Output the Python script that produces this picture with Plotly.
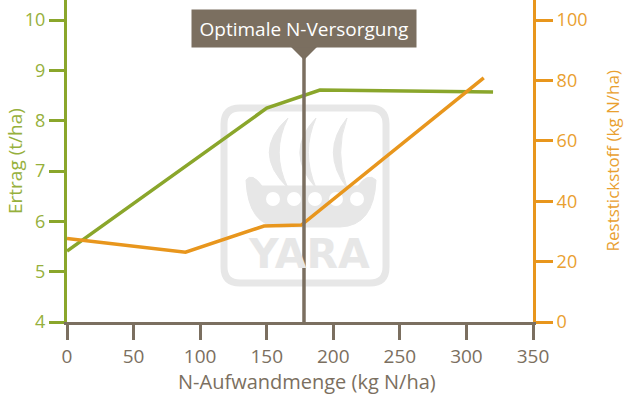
import plotly.graph_objects as go

# ---------------- data ----------------
n_rate_yield = [0, 150, 190, 320]
yield_t_ha = [5.41, 8.25, 8.61, 8.57]

n_rate_residual = [0, 89, 148, 176, 313]
residual_kg_ha = [27.7, 23.1, 31.8, 32.1, 80.9]

optimum_n = 178
optimum_label = "Optimale N-Versorgung"

x_ticks = [0, 50, 100, 150, 200, 250, 300, 350]
yield_ticks = [4, 5, 6, 7, 8, 9, 10]
residual_ticks = [0, 20, 40, 60, 80, 100]

x_title = "N-Aufwandmenge (kg N/ha)"
y_title = "Ertrag (t/ha)"
y2_title = "Reststickstoff (kg N/ha)"

# ---------------- styles ----------------
GREEN = "#8aa62b"
GREEN_TXT = "#96b03c"
ORANGE = "#e8961d"
ORANGE_TXT = "#e9a030"
GRAY = "#7b6f60"
WM = "#e7e7e7"
FONT = "Open Sans"

W, H = 625, 394
L, R, T, B = 67, 92, 0, 72
PW, PH = W - L - R, H - T - B


def px(x):
    return (x - L) / PW


def py(y):
    return (T + PH - y) / PH


fig = go.Figure()

fig.add_trace(go.Scatter(x=n_rate_yield, y=yield_t_ha, mode="lines",
                         line=dict(color=GREEN, width=3.5), yaxis="y",
                         showlegend=False, hoverinfo="skip"))
fig.add_trace(go.Scatter(x=n_rate_residual, y=residual_kg_ha, mode="lines",
                         line=dict(color=ORANGE, width=3.5), yaxis="y2",
                         showlegend=False, hoverinfo="skip"))

shapes = []

# ---- watermark (decorative logo approximation) ----
x0, x1, y0, y1, r = 224, 386, 108, 283, 16
rr = (f"M {px(x0+r)},{py(y0)} L {px(x1-r)},{py(y0)} Q {px(x1)},{py(y0)} {px(x1)},{py(y0+r)} "
      f"L {px(x1)},{py(y1-r)} Q {px(x1)},{py(y1)} {px(x1-r)},{py(y1)} "
      f"L {px(x0+r)},{py(y1)} Q {px(x0)},{py(y1)} {px(x0)},{py(y1-r)} "
      f"L {px(x0)},{py(y0+r)} Q {px(x0)},{py(y0)} {px(x0+r)},{py(y0)} Z")
shapes.append(dict(type="path", xref="paper", yref="paper", path=rr,
                   line=dict(color=WM, width=7), layer="below"))
# arcs
for ax, aw in [(266, 22), (297, 19), (331, 16)]:
    p = (f"M {px(ax+aw)},{py(118)} Q {px(ax-aw*0.7)},{py(152)} {px(ax+aw)},{py(188)} "
         f"Q {px(ax+aw*0.2)},{py(152)} {px(ax+aw)},{py(118)} Z")
    shapes.append(dict(type="path", xref="paper", yref="paper", path=p,
                       fillcolor=WM, line=dict(color=WM, width=1), layer="below"))
# ship hull
hull = (f"M {px(246)},{py(180)} Q {px(252)},{py(172)} {px(262)},{py(186)} "
        f"L {px(358)},{py(186)} Q {px(368)},{py(172)} {px(376)},{py(180)} "
        f"Q {px(374)},{py(226)} {px(340)},{py(227)} L {px(280)},{py(227)} "
        f"Q {px(248)},{py(226)} {px(246)},{py(180)} Z")
shapes.append(dict(type="path", xref="paper", yref="paper", path=hull,
                   fillcolor=WM, line=dict(color=WM, width=1), layer="below"))
for cx in [273, 294, 315, 336, 357]:
    shapes.append(dict(type="circle", xref="paper", yref="paper",
                       x0=px(cx - 7), x1=px(cx + 7), y0=py(206), y1=py(192),
                       fillcolor="white", line=dict(color="white", width=0), layer="below"))

# ---- optimum marker ----
shapes.append(dict(type="line", xref="x", yref="paper", x0=optimum_n, x1=optimum_n,
                   y0=0, y1=py(58), line=dict(color=GRAY, width=3.5)))
shapes.append(dict(type="path", xref="x", yref="paper", xsizemode="pixel", xanchor=optimum_n,
                   path=f"M -14,{py(46)} L 14,{py(46)} L 0,{py(60)} Z",
                   fillcolor=GRAY, line=dict(color=GRAY, width=0)))

annotations = [
    dict(x=optimum_n, xref="x", y=py(28.5), yref="paper", text=optimum_label,
         showarrow=False, xanchor="center", yanchor="middle",
         font=dict(family=FONT, size=19, color="white"),
         bgcolor=GRAY, borderpad=4, width=216, height=29),
    dict(x=px(246), y=py(254), xref="paper", yref="paper", text="<b>YARA</b>",
         showarrow=False, xanchor="left", yanchor="middle",
         font=dict(family="DejaVu Sans", size=41, color=WM)),
    # axis titles
    dict(x=px(307), y=py(381), xref="paper", yref="paper", text=x_title,
         showarrow=False, xanchor="center", yanchor="middle",
         font=dict(family=FONT, size=20, color=GRAY)),
    dict(x=px(15), y=py(161), xref="paper", yref="paper", text=y_title, textangle=-90,
         showarrow=False, xanchor="center", yanchor="middle",
         font=dict(family=FONT, size=19, color=GREEN_TXT)),
    dict(x=px(612), y=py(161.5), xref="paper", yref="paper", text=y2_title, textangle=-90,
         showarrow=False, xanchor="center", yanchor="middle",
         font=dict(family=FONT, size=17, color=ORANGE_TXT)),
]

fig.update_layout(
    width=W, height=H, autosize=False,
    margin=dict(l=L, r=R, t=T, b=B, pad=0),
    plot_bgcolor="white", paper_bgcolor="white",
    font=dict(family=FONT, color=GRAY),
    shapes=shapes, annotations=annotations,
    xaxis=dict(range=[0, 350], tickvals=x_ticks, showline=True, linecolor=GRAY, linewidth=3,
               ticks="outside", ticklen=15, tickwidth=3, tickcolor=GRAY,
               tickfont=dict(family=FONT, size=19, color=GRAY),
               showgrid=False, zeroline=False, automargin=False),
    yaxis=dict(range=[4, 10.4], tickvals=yield_ticks, showline=True, linecolor=GREEN, linewidth=3,
               ticks="outside", ticklen=15, tickwidth=3, tickcolor=GREEN,
               tickfont=dict(family=FONT, size=18, color=GREEN_TXT),
               showgrid=False, zeroline=False, automargin=False),
    yaxis2=dict(range=[0, 106.67], tickvals=residual_ticks, overlaying="y", side="right",
                anchor="x", showline=True, linecolor=ORANGE, linewidth=3,
                ticks="outside", ticklen=17, tickwidth=3, tickcolor=ORANGE,
                tickfont=dict(family=FONT, size=18, color=ORANGE_TXT),
                showgrid=False, zeroline=False, automargin=False),
)

fig.write_html("out.html", config={"displayModeBar": False},
               post_script="document.body.style.margin='0px';document.body.style.overflow='hidden';")
